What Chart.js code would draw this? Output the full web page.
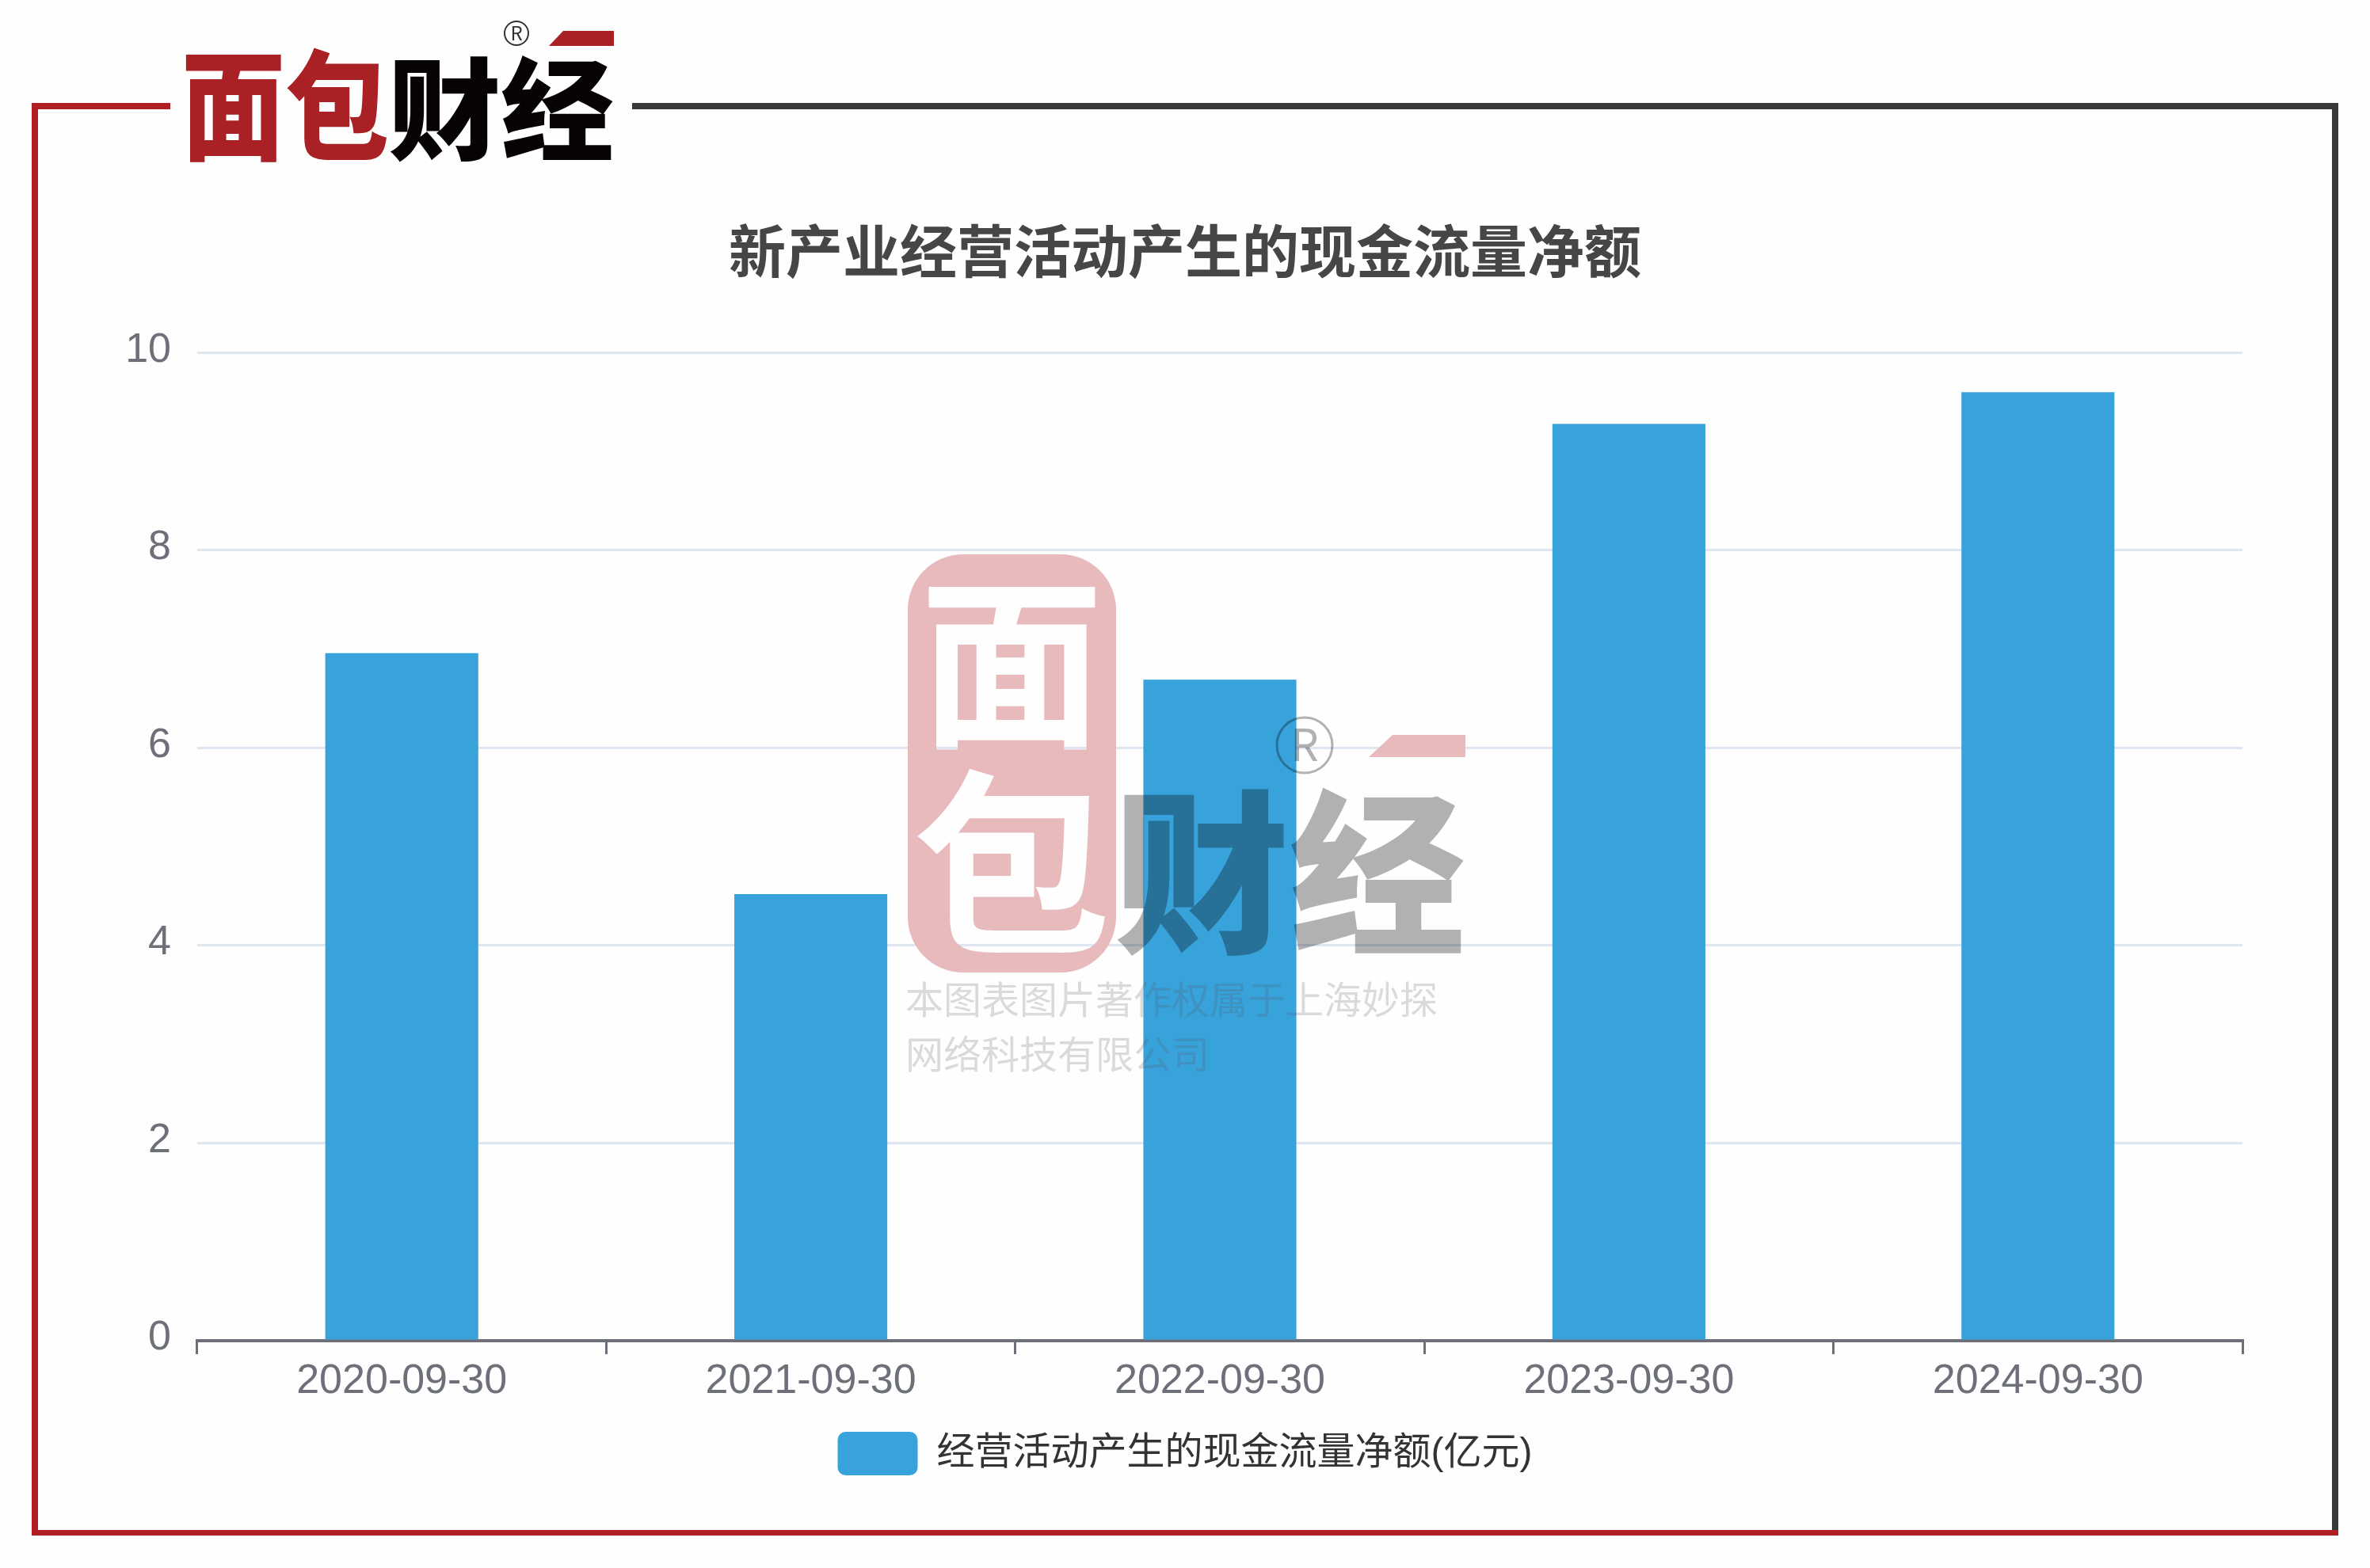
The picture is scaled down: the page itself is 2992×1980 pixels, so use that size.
<!DOCTYPE html>
<html lang="zh">
<head>
<meta charset="utf-8">
<title>新产业经营活动产生的现金流量净额</title>
<script src="https://cdn.jsdelivr.net/npm/chart.js@4"></script>
<style>
    html, body { margin: 0; padding: 0; background: #fefefe; }
    .page { position: relative; width: 2992px; height: 1980px; overflow: hidden; }
    #cashFlowChart { position: absolute; left: 0; top: 0; }
    svg { position: absolute; left: 0; top: 0; pointer-events: none; }
    svg text { font-family: "Noto Sans CJK SC", sans-serif; }
</style>
</head>
<body>
<div class="page">
    <canvas id="cashFlowChart" width="2992" height="1980"></canvas>

    <!-- frame, logo and watermark sit on top of the chart -->
    <svg width="2992" height="1980" viewBox="0 0 2992 1980">
        <defs>
            <mask id="stampMask" maskUnits="userSpaceOnUse" x="0" y="0" width="2992" height="1980">
                <rect x="0" y="0" width="2992" height="1980" fill="#fff"/>
                <text x="1277" y="925" font-size="232" font-weight="700" text-anchor="middle" fill="#000">面</text>
                <text x="1277" y="1185" font-size="250" font-weight="700" text-anchor="middle" fill="#000">包</text>
            </mask>
        </defs>

        <rect x="40" y="130" width="175" height="8" fill="#b01f24"/>
        <rect x="798" y="130" width="2154" height="8" fill="#383838"/>
        <rect x="2944" y="130" width="8" height="1809" fill="#383838"/>
        <rect x="40" y="130" width="8" height="1809" fill="#b01f24"/>
        <rect x="40" y="1932" width="2912" height="7" fill="#b01f24"/>

        <text x="229" y="190" font-size="150" font-weight="900" fill="#a92125" textLength="262" lengthAdjust="spacingAndGlyphs">面包</text>
        <text x="490" y="191" font-size="140" font-weight="900" fill="#070303" textLength="285" lengthAdjust="spacingAndGlyphs">财经</text>
        <polygon points="711,39 775,39 775,58 693,58" fill="#a92125"/>
        <circle cx="652" cy="42" r="15" fill="none" stroke="#333" stroke-width="2"/>
        <text x="652" y="51" font-size="24" text-anchor="middle" fill="#333">R</text>

        <rect x="1146" y="700" width="263" height="528" rx="70" ry="70" fill="#e8babc" mask="url(#stampMask)"/>
        <text x="1406" y="1186" font-size="222" font-weight="900" fill="rgba(0,0,0,0.3)" textLength="444" lengthAdjust="spacingAndGlyphs">财经</text>
        <polygon points="1758,928 1850,928 1850,956 1728,956" fill="#e8babc"/>
        <circle cx="1647" cy="941" r="35" fill="none" stroke="rgba(0,0,0,0.3)" stroke-width="3"/>
        <text x="1647" y="961" font-size="56" text-anchor="middle" fill="rgba(0,0,0,0.3)">R</text>
        <text x="1143" y="1280" font-size="48" fill="rgba(90,90,90,0.22)">本图表图片著作权属于上海妙探</text>
        <text x="1143" y="1349" font-size="48" fill="rgba(90,90,90,0.22)">网络科技有限公司</text>
    </svg>
</div>

<script>
    const chartTitle = '新产业经营活动产生的现金流量净额';
    const seriesName = '经营活动产生的现金流量净额(亿元)';
    const categories = ['2020-09-30', '2021-09-30', '2022-09-30', '2023-09-30', '2024-09-30'];
    const netCashFlow = [6.96, 4.52, 6.69, 9.28, 9.6];

    const axisColor = '#6e7079';
    const sansFont = '"Liberation Sans", "Noto Sans CJK SC", sans-serif';

    const ctx = document.getElementById('cashFlowChart').getContext('2d');
    const chart = new Chart(ctx, {
        type: 'bar',
        data: {
            labels: categories,
            datasets: [{
                label: seriesName,
                data: netCashFlow,
                backgroundColor: '#38a2db',
                borderWidth: 0,
                barPercentage: 0.374,
                categoryPercentage: 1
            }]
        },
        options: {
            responsive: false,
            animation: false,
            devicePixelRatio: 1,
            layout: {
                padding: { left: 161, right: 161, top: 0, bottom: 107 }
            },
            plugins: {
                title: {
                    display: true,
                    text: chartTitle,
                    color: '#464646',
                    font: { family: '"Noto Sans CJK SC", sans-serif', size: 72, weight: 'bold' },
                    padding: { top: 273, bottom: 86 }
                },
                legend: {
                    position: 'bottom',
                    labels: {
                        boxWidth: 101,
                        boxHeight: 55,
                        padding: 16,
                        useBorderRadius: true,
                        borderRadius: 10,
                        color: '#333333',
                        font: { family: sansFont, size: 48 }
                    }
                },
                tooltip: { enabled: false }
            },
            scales: {
                x: {
                    offset: true,
                    afterFit: function(scale) { scale.height = 99; },
                    grid: {
                        offset: true,
                        drawOnChartArea: false,
                        color: axisColor,
                        lineWidth: 3,
                        tickLength: 17
                    },
                    border: { color: axisColor, width: 4 },
                    ticks: {
                        color: axisColor,
                        font: { family: sansFont, size: 52 },
                        padding: 3,
                        maxRotation: 0
                    }
                },
                y: {
                    min: 0,
                    max: 10,
                    afterFit: function(scale) { scale.width = 88; },
                    grid: { color: '#e0e6f1', lineWidth: 3, drawTicks: false },
                    border: { display: false },
                    ticks: {
                        stepSize: 2,
                        color: axisColor,
                        font: { family: sansFont, size: 52 },
                        padding: 33,
                        labelOffset: -3
                    }
                }
            }
        }
    });
</script>
</body>
</html>
